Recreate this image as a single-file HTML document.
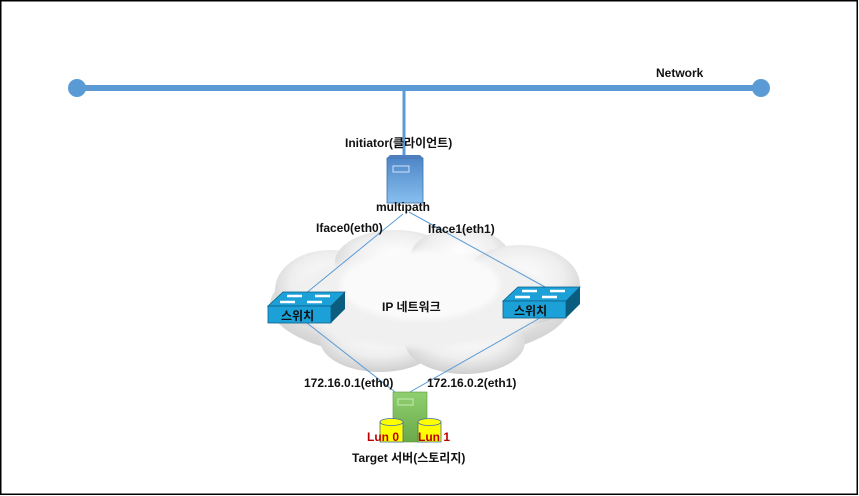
<!DOCTYPE html>
<html><head><meta charset="utf-8"><style>
html,body{margin:0;padding:0;background:#fff;}
svg{display:block;}
text{font-family:"Liberation Sans","Noto Sans CJK KR",sans-serif;font-weight:bold;font-size:12px;fill:#111;}
</style></head><body>
<svg width="859" height="496" viewBox="0 0 859 496">
<defs>
<radialGradient id="cl" cx="50%" cy="40%" r="60%">
<stop offset="0" stop-color="#ffffff"/><stop offset="0.6" stop-color="#eeeeee"/><stop offset="1" stop-color="#cfcfcf"/>
</radialGradient>
<linearGradient id="srv" x1="0" y1="0" x2="0" y2="1">
<stop offset="0" stop-color="#4f86c8"/><stop offset="1" stop-color="#86bfee"/>
</linearGradient>
<linearGradient id="tg" x1="0" y1="0" x2="0" y2="1">
<stop offset="0" stop-color="#8fcf6f"/><stop offset="1" stop-color="#6aaa4a"/>
</linearGradient>
<filter id="bl"><feGaussianBlur stdDeviation="3"/></filter>
</defs>
<rect x="0.75" y="0.75" width="856.5" height="493.5" fill="#fff" stroke="#000" stroke-width="1.5"/>
<line x1="77" y1="88" x2="760" y2="88" stroke="#5b9bd5" stroke-width="6"/>
<circle cx="77" cy="88" r="9" fill="#5b9bd5"/>
<circle cx="761" cy="88" r="9" fill="#5b9bd5"/>
<line x1="404" y1="88" x2="404" y2="155" stroke="#5b9bd5" stroke-width="3"/>
<text x="656" y="77">Network</text>
<g fill="url(#cl)">
<ellipse cx="420" cy="305" rx="150" ry="55"/>
<ellipse cx="330" cy="290" rx="55" ry="40"/>
<ellipse cx="395" cy="262" rx="60" ry="32"/>
<ellipse cx="460" cy="258" rx="50" ry="30"/>
<ellipse cx="520" cy="285" rx="60" ry="40"/>
<ellipse cx="380" cy="340" rx="60" ry="32"/>
<ellipse cx="465" cy="342" rx="60" ry="32"/>
</g>
<g filter="url(#bl)">
<ellipse cx="420" cy="300" rx="130" ry="48" fill="#f0f0f0"/>
<ellipse cx="420" cy="285" rx="80" ry="35" fill="#fafafa"/>
</g>
<g stroke="#5b9bd5" stroke-width="1" fill="none">
<line x1="403" y1="214" x2="305" y2="294"/>
<line x1="409" y1="212" x2="545" y2="287"/>
<line x1="307" y1="323" x2="395" y2="392"/>
<line x1="540" y1="318" x2="410" y2="392"/>
</g>
<text x="382" y="311">IP 네트워크</text>
<g>
<polygon points="268,306 283,292 345,292 331,306" fill="#1ba1d8" stroke="#0d5f86" stroke-width="0.8"/>
<rect x="268" y="306" width="63" height="17" fill="#1ba1d8" stroke="#0d5f86" stroke-width="0.8"/>
<polygon points="331,306 345,292 345,309 331,323" fill="#0b5d80"/>
<g stroke="#fff" stroke-width="2.5"><line x1="287" y1="296" x2="302" y2="296"/><line x1="315" y1="296" x2="330" y2="296"/><line x1="280" y1="302" x2="295" y2="302"/><line x1="307" y1="302" x2="322" y2="302"/></g>
<text x="281" y="320">스위치</text>
</g>
<g>
<polygon points="503,301 518,287 580,287 566,301" fill="#1ba1d8" stroke="#0d5f86" stroke-width="0.8"/>
<rect x="503" y="301" width="63" height="17" fill="#1ba1d8" stroke="#0d5f86" stroke-width="0.8"/>
<polygon points="566,301 580,287 580,304 566,318" fill="#0b5d80"/>
<g stroke="#fff" stroke-width="2.5"><line x1="522" y1="291" x2="537" y2="291"/><line x1="550" y1="291" x2="565" y2="291"/><line x1="515" y1="297" x2="530" y2="297"/><line x1="542" y1="297" x2="557" y2="297"/></g>
<text x="514" y="315">스위치</text>
</g>
<rect x="387" y="158" width="36" height="45" fill="url(#srv)" stroke="#3d6fa8" stroke-width="0.8"/>
<polygon points="387,158 390,155 420,155 423,158" fill="#4f7fbf"/>
<rect x="393" y="166" width="16" height="6" fill="none" stroke="#cfe3f7" stroke-width="1"/>
<text x="345" y="147">Initiator(클라이언트)</text>
<text x="376" y="211">multipath</text>
<text x="316" y="232">Iface0(eth0)</text>
<text x="428" y="233">Iface1(eth1)</text>
<text x="304" y="387">172.16.0.1(eth0)</text>
<text x="427" y="387">172.16.0.2(eth1)</text>
<rect x="393" y="392" width="34" height="50" fill="url(#tg)" stroke="#5a9a3a" stroke-width="0.6"/>
<rect x="398" y="399" width="15" height="6" fill="none" stroke="#c8ebb4" stroke-width="1"/>
<g stroke="#3f6fa8" stroke-width="0.8" fill="#ffff00">
<rect x="380" y="422" width="23" height="20"/>
<ellipse cx="391.5" cy="422" rx="11.5" ry="3.5"/>
<rect x="418" y="422" width="23" height="20"/>
<ellipse cx="429.5" cy="422" rx="11.5" ry="3.5"/>
</g>
<text x="367" y="441" style="fill:#c00000">Lun 0</text>
<text x="418" y="441" style="fill:#c00000">Lun 1</text>
<text x="352" y="462">Target 서버(스토리지)</text>
</svg>
</body></html>
